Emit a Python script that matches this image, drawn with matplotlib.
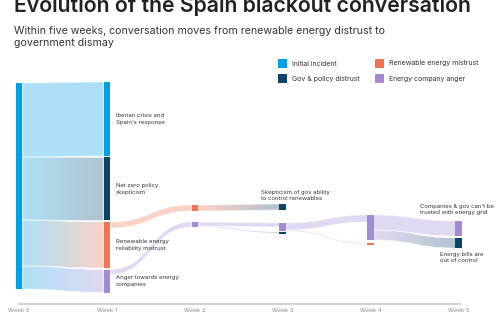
import numpy as np
import matplotlib.pyplot as plt
from matplotlib.path import Path
from matplotlib.patches import PathPatch, Rectangle
from matplotlib.colors import to_rgb

plt.rcParams['font.family'] = ['Inter', 'DejaVu Sans']

weeks = ["Week 0", "Week 1", "Week 2", "Week 3", "Week 4", "Week 5"]

themes = ["Initial incident", "Gov & policy distrust",
          "Renewable energy mistrust", "Energy company anger"]
theme_colors = ["#009FE8", "#0B4466", "#F07450", "#A38BD4"]

# nodes
node_week = [0, 1, 1, 1, 1, 2, 2, 3, 3, 3, 4, 4, 5, 5]
node_theme = [0, 0, 1, 2, 3, 2, 3, 1, 3, 1, 3, 2, 3, 1]
node_labels = ["", "Iberian crisis and\nSpain's response", "Net zero policy\nskepticism",
               "Renewable energy\nreliability mistrust", "Anger towards energy\ncompanies",
               "", "", "Skepticism of gov ability\nto control renewables", "", "",
               "", "", "Companies & gov can't be\ntrusted with energy grid",
               "Energy bills are\nout of control"]

# links
link_source = [0, 0, 0, 0, 3, 4, 5, 6, 6, 8, 8, 10, 10]
link_target = [1, 2, 3, 4, 5, 6, 7, 8, 9, 10, 11, 12, 13]
link_value = [74, 63, 46, 23, 6, 5, 6, 4, 1, 7, 1, 15, 10]

# layout: free node tops (weeks 0-1 are stacked), label placement
node_top = {5: 122, 6: 139, 7: 121, 8: 140, 9: 149, 10: 132, 11: 160, 12: 138, 13: 155}
label_place = {7: ("above", -18, 3), 12: ("above", -35, 6), 13: ("below", -15, 4)}

PX = 87.9          # pixels per week
NW = 6.5 / PX      # node width in week units
GAP = 1.5
MINH = 2.5

fig = plt.figure(figsize=(5, 3.3), dpi=100)
ax = fig.add_axes([0, 0, 1, 1])
ax.axis('off')

n = len(node_week)
inflow = np.zeros(n)
outflow = np.zeros(n)
for s, t, v in zip(link_source, link_target, link_value):
    outflow[s] += v
    inflow[t] += v
node_h = np.maximum(np.maximum(inflow, outflow), MINH)

tops = np.zeros(n)
for w in (0, 1):
    y = 0 if w == 0 else -1
    for i in range(n):
        if node_week[i] == w:
            tops[i] = y
            y += node_h[i] + GAP
for i, y in node_top.items():
    tops[i] = y


def light(c, a=0.32):
    c = np.array(to_rgb(c))
    return 1 - a * (1 - c)


# links
out_off = tops.copy()
in_off = tops.copy()
order = sorted(range(len(link_source)), key=lambda k: (link_source[k], tops[link_target[k]]))
for k in order:
    s, t, v = link_source[k], link_target[k], link_value[k]
    x0 = node_week[s] + NW / 2
    x1 = node_week[t] - NW / 2
    y0 = out_off[s]
    y1 = in_off[t]
    out_off[s] += v
    in_off[t] += v
    xm = (x0 + x1) / 2
    verts = [(x0, y0), (xm, y0), (xm, y1), (x1, y1), (x1, y1 + v),
             (xm, y1 + v), (xm, y0 + v), (x0, y0 + v), (x0, y0)]
    codes = [Path.MOVETO, Path.CURVE4, Path.CURVE4, Path.CURVE4, Path.LINETO,
             Path.CURVE4, Path.CURVE4, Path.CURVE4, Path.CLOSEPOLY]
    path = Path(verts, codes)
    c0 = light(theme_colors[node_theme[s]])
    c1 = light(theme_colors[node_theme[t]])
    grad = np.linspace(0, 1, 64)[None, :, None]
    img = c0[None, None, :] * (1 - grad) + c1[None, None, :] * grad
    ylo, yhi = min(y0, y1) - 1, max(y0, y1) + v + 1
    im = ax.imshow(img, extent=[x0, x1, yhi, ylo], aspect='auto',
                   interpolation='bilinear', zorder=1)
    patch = PathPatch(path, transform=ax.transData, facecolor='none',
                      edgecolor='white', lw=0.3, zorder=2)
    ax.add_patch(patch)
    im.set_clip_path(patch)

# limits set after imshow
ax.set_xlim(-19 / PX, (500 - 19) / PX)
ax.set_ylim(247, -83)

# nodes
for i in range(n):
    ax.add_patch(Rectangle((node_week[i] - NW / 2, tops[i]), NW, node_h[i],
                           facecolor=theme_colors[node_theme[i]], lw=0, zorder=3))
    lab = node_labels[i]
    if not lab:
        continue
    if i in label_place:
        kind, dx, gap = label_place[i]
        xl = node_week[i] - NW / 2 + dx / PX
        if kind == "above":
            ax.text(xl, tops[i] - gap, lab, fontsize=4.3, color='#333333',
                    ha='left', va='bottom', linespacing=1.3, zorder=4)
        else:
            ax.text(xl, tops[i] + node_h[i] + gap, lab, fontsize=4.3, color='#333333',
                    ha='left', va='top', linespacing=1.3, zorder=4)
    else:
        ax.text(node_week[i] + NW / 2 + 6 / PX, tops[i] + node_h[i] / 2, lab,
                fontsize=4.3, color='#333333', ha='left', va='center',
                linespacing=1.3, zorder=4)

# week axis
ax.plot([-1 / PX, 5 + 2 / PX], [221, 221], color='#D3D3D3', lw=1.5,
        solid_capstyle='butt', zorder=1)
for w, lab in enumerate(weeks):
    ax.text(w, 227, lab, fontsize=4.3, color='#8A8A8A', ha='center', va='center')

# titles
fig.text(14 / 500, 1 - 12 / 330, "Evolution of the Spain blackout conversation",
         fontsize=15.3, fontweight='semibold', color='#222222', va='baseline')
fig.text(14 / 500, 1 - 26.5 / 330,
         "Within five weeks, conversation moves from renewable energy distrust to\ngovernment dismay",
         fontsize=7.65, color='#333333', va='top', linespacing=1.22)

# legend
leg_pos = [(278, 59), (278, 74), (375, 59), (375, 74)]
for (lx, ly), th, col in zip(leg_pos, themes, theme_colors):
    fig.add_artist(Rectangle((lx / 500, 1 - (ly + 9) / 330), 9 / 500, 9 / 330,
                             transform=fig.transFigure, facecolor=col, lw=0))
    fig.text((lx + 14) / 500, 1 - (ly + 4.5) / 330, th, fontsize=5, color='#333333',
             va='center', ha='left')

fig.savefig("out.png", dpi=100)
